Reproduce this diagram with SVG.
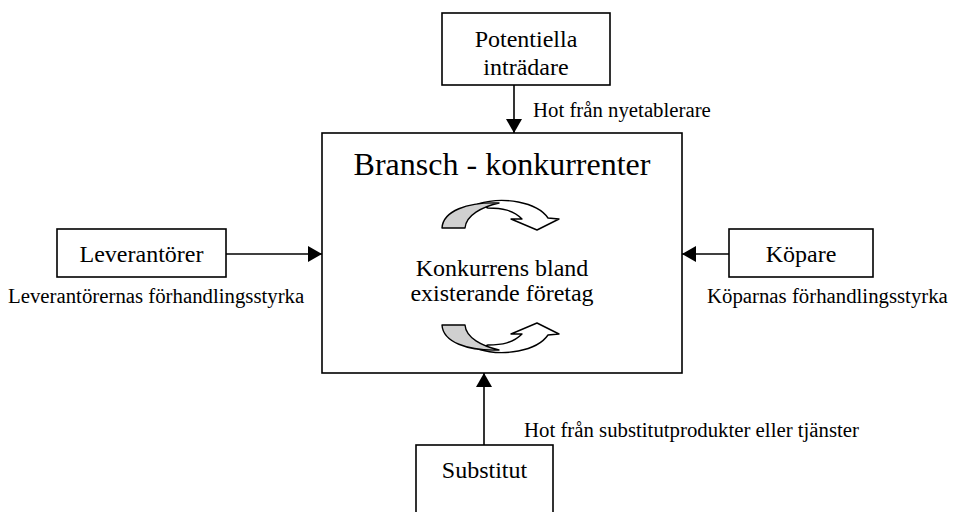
<svg xmlns="http://www.w3.org/2000/svg" xmlns:xlink="http://www.w3.org/1999/xlink" width="954" height="512" viewBox="0 0 954 512">
  <style>
    .box { fill: #ffffff; stroke: #000000; stroke-width: 1.6; }
    .conn { fill: none; stroke: #000000; stroke-width: 1.6; marker-end: url(#head); }
    .t { font-family: "Liberation Serif", "Times New Roman", serif; fill: #000000; }
    .node { font-size: 24px; text-anchor: middle; }
    .title { font-size: 32px; text-anchor: middle; }
    .lbl { font-size: 20.8px; }
    .ribbon { stroke: #000000; stroke-width: 1.4; stroke-linejoin: round; }
  </style>
  <defs>
    <marker id="head" markerUnits="userSpaceOnUse" markerWidth="18" markerHeight="18" refX="14" refY="8" orient="auto">
      <path d="M0,0 L14,8 L0,16 Z" fill="#000000"/>
    </marker>
    <!-- circular "rivalry" arrow: grey back face on the left, white front band ending in a head -->
    <g id="swirl">
      <path class="ribbon" fill="#ffffff" d="M478,204 C503,196 537,202 548,218 L559,219 L537,230 L511,219 L522,219 C513,210 502,208 488,208 Z"/>
      <path class="ribbon" fill="#d0d0d0" d="M442,228 C443,211 467,202 499,203 C482,207 466,215 465,228 Z"/>
    </g>
  </defs>

  <!-- connectors -->
  <g id="connectors">
    <line class="conn" x1="514" y1="85" x2="514" y2="133"/>
    <line class="conn" x1="226" y1="254" x2="322" y2="254"/>
    <line class="conn" x1="729" y1="254" x2="682" y2="254"/>
    <line class="conn" x1="484" y1="445" x2="484" y2="373"/>
  </g>

  <g id="potentiella">
    <rect class="box" x="442" y="13" width="168" height="72"/>
    <text class="t node" x="526" y="47">Potentiella</text>
    <text class="t node" x="526" y="75">inträdare</text>
  </g>
  <text class="t lbl" x="533" y="117">Hot från nyetablerare</text>

  <g id="bransch">
    <rect class="box" x="322" y="133" width="360" height="240"/>
    <text class="t title" x="502" y="175">Bransch - konkurrenter</text>
    <use xlink:href="#swirl"/>
    <text class="t node" x="502" y="276">Konkurrens bland</text>
    <text class="t node" x="502" y="301">existerande företag</text>
    <use xlink:href="#swirl" transform="translate(0,553) scale(1,-1)"/>
  </g>

  <g id="leverantorer">
    <rect class="box" x="57" y="229" width="169" height="48"/>
    <text class="t node" x="141.5" y="262">Leverantörer</text>
  </g>
  <text class="t lbl" x="8" y="303">Leverantörernas förhandlingsstyrka</text>

  <g id="kopare">
    <rect class="box" x="729" y="229" width="144" height="48"/>
    <text class="t node" x="801" y="262">Köpare</text>
  </g>
  <text class="t lbl" x="707" y="303">Köparnas förhandlingsstyrka</text>

  <g id="substitut">
    <rect class="box" x="416" y="445" width="137" height="80"/>
    <text class="t node" x="484.5" y="478">Substitut</text>
  </g>
  <text class="t lbl" x="524" y="437">Hot från substitutprodukter eller tjänster</text>
</svg>
